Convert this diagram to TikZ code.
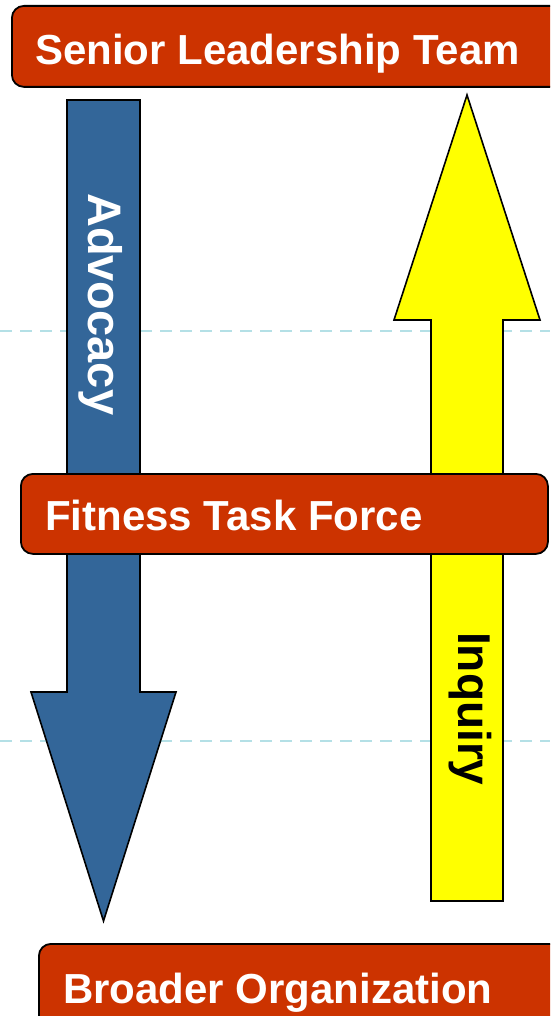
\documentclass[tikz,border=0pt]{standalone}
\usepackage{fontspec}
\setmainfont{Liberation Sans}
\begin{document}
\begin{tikzpicture}[x=1pt,y=-1pt,
  tierbox/.style={draw=black, line width=1.8pt, fill=tierred, rounded corners=12pt,
    rectangle, inner sep=0pt, anchor=north west},
  tiertext/.style={text=white, font=\bfseries\fontsize{42}{48}\selectfont,
    inner sep=0pt, anchor=base west},
  flowarrow/.style={draw=black, line width=1.6pt, line join=miter},
  flowtext/.style={font=\bfseries\fontsize{47}{52}\selectfont, inner sep=0pt,
    anchor=base west, rotate=-90},
  guide/.style={draw=guidecyan, line width=2pt, dash pattern=on 12pt off 8pt}
]
\definecolor{tierred}{RGB}{204,51,0}
\definecolor{advblue}{RGB}{51,102,153}
\definecolor{inqyellow}{RGB}{255,255,0}
\definecolor{guidecyan}{RGB}{180,224,230}

% canvas
\useasboundingbox (0,0) rectangle (550,1016);
\clip (0,0) rectangle (550,1016);

% dashed guide lines
\coordinate (g1l) at (0,331);   \coordinate (g1r) at (550,331);
\coordinate (g2l) at (0,741);   \coordinate (g2r) at (550,741);
\path[guide] (g1l) -- (g1r);
\path[guide] (g2l) -- (g2r);

% downward advocacy arrow
\coordinate (advtop) at (103.5,100);
\coordinate (advtip) at (103.5,921);
\fill[advblue] (67,100) -- (140,100) -- (140,692) -- (176,692) -- (advtip)
  -- (31,692) -- (67,692) -- cycle;
\draw[flowarrow] (67,100) -- (140,100) -- (140,692) -- (176,692) -- (advtip)
  -- (31,692) -- (67,692) -- cycle;
\node[flowtext, text=white] (advocacy) at (88,193) {Advocacy};

% upward inquiry arrow
\coordinate (inqtip) at (467,95);
\coordinate (inqbase) at (467,901);
\draw[flowarrow, fill=inqyellow] (431,901) -- (503,901) -- (503,320) -- (540,320)
  -- (inqtip) -- (394,320) -- (431,320) -- cycle;
\node[flowtext, text=black, font=\bfseries\fontsize{46}{52}\selectfont]
  (inquiry) at (458,632) {Inquiry};

% tiers
\node[tierbox, minimum width=560pt, minimum height=81pt] (slt) at (11,5) {};
\node[tiertext] (slttext) at (35,65) {Senior Leadership Team};

\node[tierbox, minimum width=527pt, minimum height=80pt] (ftf) at (20,473) {};
\node[tiertext] (ftftext) at (45,530) {Fitness Task Force};

\node[tierbox, minimum width=540pt, minimum height=100pt] (bo) at (38,943) {};
\node[tiertext] (botext) at (63,1003) {Broader Organization};
\end{tikzpicture}
\end{document}
